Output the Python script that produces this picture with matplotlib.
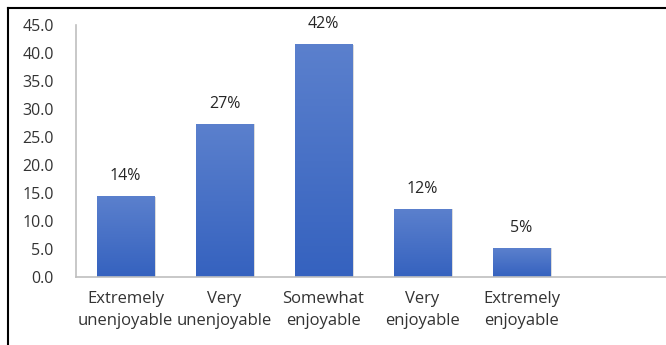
import matplotlib
matplotlib.use("Agg")
import matplotlib.pyplot as plt
import numpy as np
from matplotlib.lines import Line2D
from matplotlib.colors import LinearSegmentedColormap

categories = ["Extremely\nunenjoyable", "Very\nunenjoyable", "Somewhat\nenjoyable", "Very\nenjoyable", "Extremely\nenjoyable"]
values = [14.3, 27.3, 41.5, 12.1, 5.1]
labels = ["14%", "27%", "42%", "12%", "5%"]
yticks = [0, 5, 10, 15, 20, 25, 30, 35, 40, 45]

plt.rcParams['font.family'] = ['Open Sans', 'DejaVu Sans']

fig = plt.figure(figsize=(6.66, 3.45), dpi=100)
ax = fig.add_axes([76/666, 1-277/345, 594/666, 252/345])

width = 0.58
cmap = LinearSegmentedColormap.from_list("g", ["#3562BF", "#5B80CD"])
grad = np.linspace(0, 1, 256).reshape(-1, 1)
for i, v in enumerate(values):
    ax.bar(i + 0.02, v, width=width, color="#9a9a9a", alpha=0.35, zorder=1)
    ax.imshow(grad, extent=(i - width/2, i + width/2, 0, v), origin="lower",
              cmap=cmap, aspect="auto", zorder=2)
    ax.annotate(labels[i], (i, v), xytext=(0, 9), textcoords="offset points",
                ha="center", va="bottom", fontsize=11.5, color="#262626")

ax.set_xlim(-0.5, 5.5)
ax.set_ylim(0, 45)
ax.set_yticks(yticks)
ax.set_yticklabels([f"{t:.1f}" for t in yticks], fontsize=11.5, color="#333333")
ax.set_xticks(range(len(categories)))
ax.set_xticklabels(categories, fontsize=12, color="#333333", linespacing=1.55)
ax.tick_params(length=0)
ax.tick_params(axis="x", pad=10)
ax.tick_params(axis="y", pad=16)
for s in ["top", "right"]:
    ax.spines[s].set_visible(False)
for s in ["left", "bottom"]:
    ax.spines[s].set_color("#bfbfbf")
    ax.spines[s].set_linewidth(1.2)

fig.add_artist(Line2D([8/666, 8/666], [0, 1-8/345], color="black", lw=1.5, transform=fig.transFigure))
fig.add_artist(Line2D([8/666, 1], [1-8/345, 1-8/345], color="black", lw=1.5, transform=fig.transFigure))

fig.savefig("out.png", dpi=100)
